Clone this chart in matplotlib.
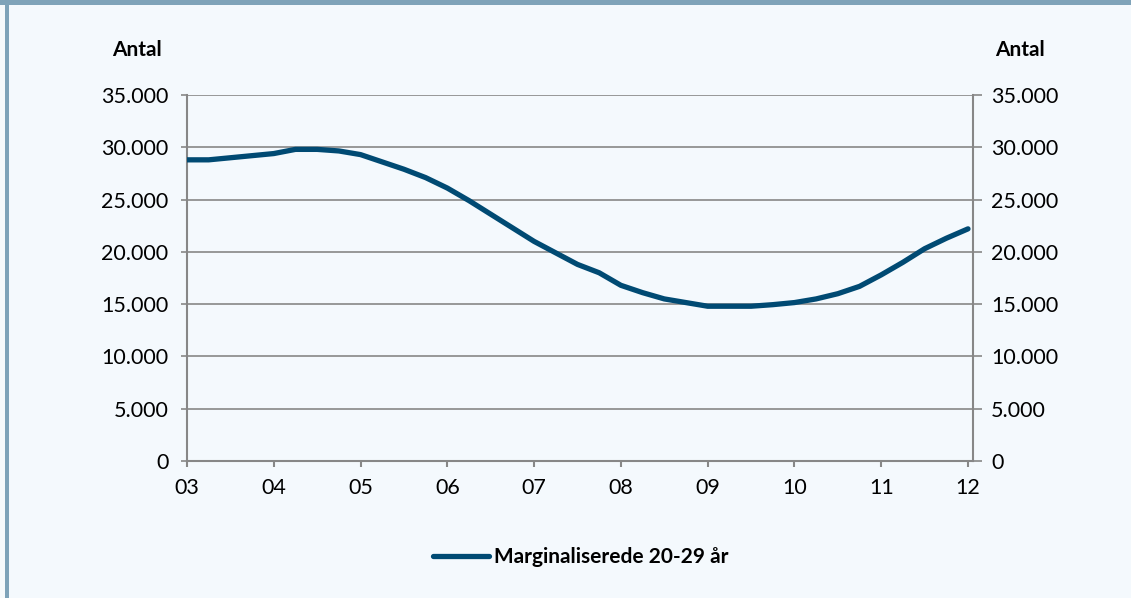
import matplotlib
matplotlib.use("Agg")
import matplotlib.pyplot as plt
from matplotlib.patches import Rectangle
from matplotlib.ticker import FuncFormatter
import numpy as np

# Data (quarterly)
years = [2003 + 0.25 * i for i in range(37)]
values = [28800, 28800, 29000, 29200, 29400, 29800, 29800, 29650,
          29300, 28600, 27900, 27100, 26100, 24900, 23600, 22300,
          21000, 19900, 18800, 18000, 16800, 16100, 15500, 15150,
          14800, 14800, 14800, 14950, 15150, 15500, 16000, 16700,
          17800, 19000, 20300, 21300, 22200]
series_name = "Marginaliserede 20-29 år"
xtick_pos = list(range(2003, 2013))
xtick_labels = ["03", "04", "05", "06", "07", "08", "09", "10", "11", "12"]
yticks = list(range(0, 35001, 5000))

W, H = 1131, 598
BG = "#f4f9fd"
BORDER = "#7fa3b9"
GRID = "#878787"
LINE = "#004a73"

plt.rcParams['font.family'] = ['Lato', 'DejaVu Sans']

fig = plt.figure(figsize=(W / 100, H / 100), dpi=100)
fig.patch.set_facecolor(BG)

# frame decorations
fig.add_artist(Rectangle((0, 0), 5 / W, 1, transform=fig.transFigure, facecolor="#f7fafc", edgecolor="none"))
fig.add_artist(Rectangle((5 / W, 0), 4 / W, 1, transform=fig.transFigure, facecolor=BORDER, edgecolor="none"))
fig.add_artist(Rectangle((0, 1 - 4.5 / H), 1, 4.5 / H, transform=fig.transFigure, facecolor=BORDER, edgecolor="none"))

left, right = 187 / W, 972.5 / W
bottom, top = 1 - 461 / H, 1 - 95 / H
ax = fig.add_axes([left, bottom, right - left, top - bottom])
ax.set_facecolor(BG)

ax.plot(years, values, color=LINE, lw=3.8, solid_capstyle='round', solid_joinstyle='round',
        label=series_name, zorder=3)

ax.set_xlim(2003, 2012 + 4.5 / 86.78)
ax.set_ylim(0, 35000)
ax.set_xticks(xtick_pos)
ax.set_xticklabels(xtick_labels)
ax.set_yticks(yticks)
fmt = FuncFormatter(lambda v, p: f"{int(v):,}".replace(",", "."))
ax.yaxis.set_major_formatter(fmt)
ax.grid(axis='y', color=GRID, lw=1.2, zorder=1)
ax.set_axisbelow(True)

for s in ['left', 'right', 'bottom']:
    ax.spines[s].set_color(GRID)
    ax.spines[s].set_linewidth(1.5)
ax.spines['top'].set_visible(False)

ax.tick_params(axis='x', direction='out', length=4, width=1.5, color=GRID, pad=8,
               labelsize=15.5, labelcolor='black')
ax.tick_params(axis='y', which='both', direction='out', length=4.3, width=1.2, color=GRID,
               pad=9, labelsize=15.5, labelcolor='black', left=True, right=False)

ax2 = ax.twinx()
ax2.set_ylim(0, 35000)
ax2.set_yticks(yticks)
ax2.yaxis.set_major_formatter(fmt)
for s in ax2.spines.values():
    s.set_visible(False)
ax2.tick_params(axis='y', direction='out', length=6.5, width=1.2, color=GRID, pad=7,
                labelsize=15.5, labelcolor='black')

fig.text(137 / W, 1 - 50 / H, "Antal", ha='center', va='center', fontsize=15, fontweight='bold')
fig.text(1020 / W, 1 - 50 / H, "Antal", ha='center', va='center', fontsize=15, fontweight='bold')

leg = fig.legend(handles=ax.get_lines(), loc='center left', bbox_to_anchor=(433 / W, 1 - 557 / H),
                 frameon=False, prop={'weight': 'bold', 'size': 15}, handlelength=2.69,
                 handletextpad=0.24, borderpad=0, borderaxespad=0)

fig.savefig("out.png", dpi=100, facecolor=BG)
